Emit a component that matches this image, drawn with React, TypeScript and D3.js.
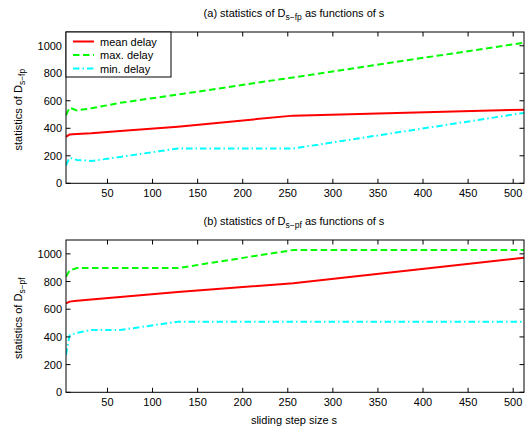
import React from "react";
import * as d3 from "d3";

const sValues = [4, 8, 16, 32, 64, 128, 256, 512];
const fpMean = [338, 355, 358, 363, 381, 412, 492, 535];
const fpMax = [495, 550, 530, 545, 585, 645, 770, 1022];
const fpMin = [130, 185, 170, 162, 192, 253, 253, 512];
const pfMean = [643, 655, 662, 670, 688, 725, 788, 972];
const pfMax = [835, 880, 897, 897, 897, 897, 1028, 1028];
const pfMin = [270, 410, 430, 450, 450, 510, 510, 510];

const xTicks = [50, 100, 150, 200, 250, 300, 350, 400, 450, 500];
const yTicks = [0, 200, 400, 600, 800, 1000];
const legendLabels = ["mean delay", "max. delay", "min. delay"];

const W = 531;
const H = 436;
const FONT = "'Liberation Sans', Arial, sans-serif";

const seriesStyle = [
  { color: "#ff0000", dash: "none" },
  { color: "#00ff00", dash: "6.5,3.5" },
  { color: "#00ffff", dash: "6.5,3,1.5,3" },
];

function Panel({ top, bottom, series, title, sub, showLegend, showXLabel }: any) {
  const left = 66;
  const right = 524;
  const x = d3.scaleLinear().domain([4, 512]).range([left, right]);
  const y = d3.scaleLinear().domain([0, 1100]).range([bottom, top]);
  const line = d3
    .line<[number, number]>()
    .x((d) => x(d[0]))
    .y((d) => y(d[1]));
  const tl = 4.5;
  const midY = (top + bottom) / 2;
  return (
    <g>
      <text x={294} y={top - 15} fontSize={11} fontFamily={FONT} textAnchor="middle" fill="#000">
        {title[0]}
        <tspan dy={3} fontSize={8.5}>{sub}</tspan>
        <tspan dy={-3}>{title[1]}</tspan>
      </text>
      <text
        transform={`translate(22,${midY + 2}) rotate(-90)`}
        fontSize={11}
        fontFamily={FONT}
        textAnchor="middle"
        fill="#000"
      >
        statistics of D
        <tspan dy={3} fontSize={8.5}>{sub}</tspan>
      </text>
      <defs>
        <clipPath id={`clip${top}`}>
          <rect x={left} y={top} width={right - left} height={bottom - top} />
        </clipPath>
      </defs>
      <g clipPath={`url(#clip${top})`}>
        {series.map((vals: number[], i: number) => (
          <path
            key={i}
            d={line(sValues.map((s, j) => [s, vals[j]] as [number, number])) || ""}
            fill="none"
            stroke={seriesStyle[i].color}
            strokeWidth={2}
            strokeDasharray={seriesStyle[i].dash}
          />
        ))}
      </g>
      <rect x={left} y={top} width={right - left} height={bottom - top} fill="none" stroke="#000" strokeWidth={1} />
      {xTicks.map((t) => (
        <g key={t}>
          <line x1={x(t)} x2={x(t)} y1={bottom} y2={bottom - tl} stroke="#000" />
          <line x1={x(t)} x2={x(t)} y1={top} y2={top + tl} stroke="#000" />
          <text x={x(t)} y={bottom + 14} fontSize={11} fontFamily={FONT} textAnchor="middle" fill="#000">
            {t}
          </text>
        </g>
      ))}
      {yTicks.map((t) => (
        <g key={t}>
          <line x1={left} x2={left + tl} y1={y(t)} y2={y(t)} stroke="#000" />
          <line x1={right} x2={right - tl} y1={y(t)} y2={y(t)} stroke="#000" />
          <text x={62} y={y(t) + 4} fontSize={11} fontFamily={FONT} textAnchor="end" fill="#000">
            {t}
          </text>
        </g>
      ))}
      {showLegend && (
        <g>
          <rect x={left} y={top} width={105} height={45} fill="#fff" stroke="#000" strokeWidth={1} />
          {legendLabels.map((lab, i) => {
            const ly = top + 9.5 + i * 13.5;
            return (
              <g key={lab}>
                <line
                  x1={73}
                  x2={94}
                  y1={ly}
                  y2={ly}
                  stroke={seriesStyle[i].color}
                  strokeWidth={2}
                  strokeDasharray={seriesStyle[i].dash}
                />
                <text x={100} y={ly + 4} fontSize={11} fontFamily={FONT} fill="#000">
                  {lab}
                </text>
              </g>
            );
          })}
        </g>
      )}
      {showXLabel && (
        <text x={294} y={bottom + 32} fontSize={11} fontFamily={FONT} textAnchor="middle" fill="#000">
          sliding step size s
        </text>
      )}
    </g>
  );
}

export default function App() {
  return (
    <svg width={W} height={H} viewBox={`0 0 ${W} ${H}`} style={{ display: "block", position: "absolute", left: 0, top: 0, background: "#fff" }}>
      <rect width={W} height={H} fill="#fff" />
      <Panel
        top={32}
        bottom={183.3}
        series={[fpMean, fpMax, fpMin]}
        title={["(a) statistics of D", " as functions of s"]}
        sub="s−fp"
        showLegend={true}
        showXLabel={false}
      />
      <Panel
        top={240}
        bottom={392.3}
        series={[pfMean, pfMax, pfMin]}
        title={["(b) statistics of D", " as functions of s"]}
        sub="s−pf"
        showLegend={false}
        showXLabel={true}
      />
    </svg>
  );
}
